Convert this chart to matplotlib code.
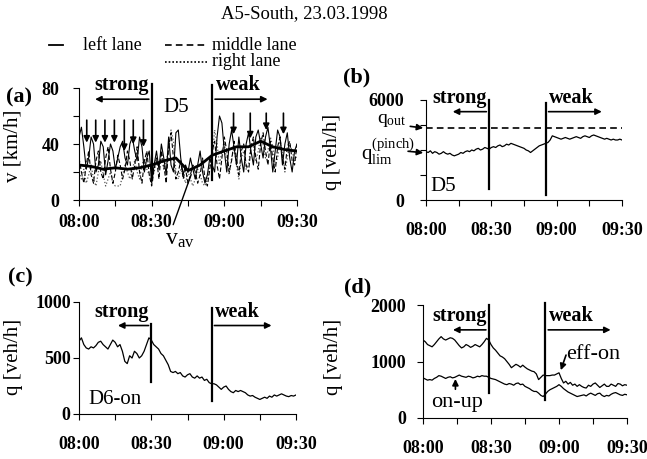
import matplotlib
matplotlib.use('Agg')
import matplotlib.pyplot as plt
from matplotlib.lines import Line2D
import numpy as np

plt.rcParams['font.family'] = 'Liberation Serif'
plt.rcParams['mathtext.fontset'] = 'custom'
plt.rcParams['mathtext.rm'] = 'Liberation Serif'

# minutes after 08:00
minutes = np.arange(0, 91)
clock = ['08:00', '08:30', '09:00', '09:30']

# (a) D5 speeds per lane [km/h]
left_lane = [45, 52, 38, 22, 30, 45, 40, 20, 25, 42,
             38, 18, 28, 40, 35, 22, 30, 38, 42, 30,
             25, 40, 45, 35, 28, 45, 38, 20, 30, 35,
             12, 25, 35, 22, 40, 30, 18, 45, 25, 20,
             48, 50, 30, 18, 25, 20, 30, 22, 15, 25,
             35, 20, 12, 18, 30, 25, 20, 45, 60, 55,
             35, 20, 40, 50, 38, 25, 45, 30, 20, 40,
             48, 35, 25, 45, 50, 40, 30, 45, 52, 38,
             20, 35, 50, 45, 25, 40, 48, 30, 20, 35, 40]
middle_lane = [30, 20, 12, 25, 35, 18, 12, 28, 35, 20,
               15, 30, 38, 22, 12, 20, 32, 25, 15, 22,
               35, 28, 15, 25, 38, 20, 12, 28, 35, 18,
               10, 22, 30, 15, 35, 25, 12, 38, 48, 30,
               15, 20, 28, 15, 22, 12, 18, 25, 20, 12,
               18, 30, 15, 10, 22, 35, 42, 25, 15, 30,
               45, 35, 20, 28, 42, 30, 18, 35, 40, 25,
               20, 38, 45, 30, 22, 40, 48, 35, 25, 42,
               30, 20, 38, 45, 30, 22, 38, 42, 28, 25, 40]
right_lane = [20, 15, 22, 12, 18, 25, 15, 10, 20, 28,
              18, 10, 15, 20, 12, 10, 10, 10, 18, 25,
              20, 15, 22, 28, 20, 15, 25, 30, 22, 18,
              15, 20, 28, 25, 30, 22, 28, 35, 50, 42,
              20, 15, 22, 18, 12, 20, 15, 10, 15, 22,
              18, 12, 10, 15, 25, 30, 50, 40, 25, 35,
              40, 28, 18, 30, 38, 25, 15, 30, 35, 22,
              25, 40, 38, 28, 35, 45, 40, 30, 35, 45,
              38, 25, 30, 42, 35, 20, 30, 40, 35, 28, 32]
t_av = [0, 5, 10, 15, 20, 25, 30, 35, 40, 45, 50, 55, 60, 65, 70, 75, 80, 85, 90]
v_av = [25, 24, 22, 23, 22, 23, 25, 28, 30, 21, 25, 32, 35, 38, 38, 42, 38, 36, 35]

# down arrows in (a): time, top, tip
arrow_t = [3.2, 6.9, 10.7, 14.6, 18.7, 22.4, 26.6, 63.8, 70.7, 77.3, 84.4]
arrow_top = [59, 59, 59, 59, 59, 59, 59, 64, 64, 64, 64]
arrow_tip = [39, 39, 39, 39, 33, 38, 36, 45, 42, 48, 45]

# (b) D5 total flow [veh/h]
q_d5 = [2900, 2850, 2950, 2800, 2900, 2850, 2750, 2800, 2900, 2800,
        2750, 2800, 2700, 2650, 2700, 2750, 2850, 2800, 2900, 2950,
        2900, 3000, 2950, 3050, 3100, 3000, 3050, 3150, 3100, 3050,
        3150, 3200, 3150, 3250, 3300, 3200, 3250, 3350, 3300, 3400,
        3350, 3300, 3250, 3200, 3150, 3100, 3000, 2950, 2850, 2950,
        3050, 3150, 3250, 3300, 3350, 3400, 3450, 3600, 3850, 3800,
        3750, 3700, 3650, 3700, 3750, 3700, 3650, 3700, 3750, 3800,
        3750, 3700, 3800, 3850, 3800, 3750, 3850, 3900, 3850, 3800,
        3750, 3700, 3650, 3700, 3650, 3600, 3650, 3600, 3600, 3650, 3600]
q_out = 4300

# (c) D6-on flow [veh/h]
q_d6on = [650, 680, 620, 590, 580, 600, 590, 610, 640, 650,
          620, 600, 580, 620, 660, 640, 600, 620, 560, 470,
          450, 520, 500, 560, 540, 500, 520, 560, 620, 680,
          660, 620, 600, 580, 540, 520, 480, 440, 380, 370,
          380, 360, 370, 340, 330, 350, 360, 330, 320, 340,
          320, 330, 300, 310, 280, 270, 270, 260, 240, 220,
          240, 250, 220, 200, 190, 210, 200, 210, 200, 190,
          170, 160, 165, 150, 140, 130, 140, 150, 140, 160,
          150, 170, 160, 170, 180, 170, 160, 155, 165, 160, 170]

# (d) on-ramp flows [veh/h]
q_effon = [1380, 1350, 1300, 1280, 1260, 1300, 1350, 1400, 1440, 1400,
           1380, 1400, 1420, 1410, 1380, 1330, 1280, 1240, 1260, 1300,
           1280, 1250, 1270, 1300, 1280, 1260, 1300, 1350, 1410, 1380,
           1300, 1240, 1200, 1150, 1100, 1080, 1050, 1000, 950, 890,
           920, 950, 930, 900, 935, 900, 870, 850, 830, 820,
           780, 680, 720, 760, 750, 750, 750, 760, 760, 780,
           800, 700, 620, 650, 600, 630, 580, 600, 560, 590,
           560, 540, 530, 580, 560, 600, 620, 580, 540, 570,
           600, 560, 560, 600, 580, 560, 610, 600, 570, 590, 580]
q_onup = [710, 690, 670, 680, 670, 700, 720, 750, 740, 720,
          700, 720, 730, 710, 720, 740, 760, 740, 730, 720,
          740, 730, 710, 720, 740, 730, 750, 740, 740, 720,
          700, 690, 680, 660, 640, 620, 600, 590, 610, 600,
          580, 610, 620, 590, 600, 560, 540, 520, 490, 470,
          470, 440, 400, 380, 420, 470, 500, 520, 540, 560,
          590, 560, 520, 490, 460, 440, 420, 400, 380, 390,
          400, 410, 390, 420, 440, 420, 400, 430, 440, 400,
          380, 400, 390, 420, 440, 450, 430, 410, 400, 420, 410]

# boundaries of strong / weak congestion per panel (minutes)
strong_end = [30, 29, 30, 29]
weak_start = [55, 55, 55, 54]

W, H = 647, 459
fig = plt.figure(figsize=(6.47, 4.59), dpi=100)


def box(l, r, t, b):
    return [l / W, 1 - b / H, (r - l) / W, (b - t) / H]


ax_a = fig.add_axes(box(79, 297, 88, 200))
ax_b = fig.add_axes(box(426, 622, 100, 200))
ax_c = fig.add_axes(box(79, 296, 302, 414))
ax_d = fig.add_axes(box(423, 627, 305, 418))


def style(ax, ymax, yticks, yminor, ylabel, lx, ly, xpad, ypad):
    ax.set_xlim(0, 90)
    ax.set_ylim(0, ymax)
    for s in ['top', 'right']:
        ax.spines[s].set_visible(False)
    ax.set_xticks([0, 30, 60, 90])
    ax.set_xticklabels(clock)
    ax.set_xticks([15, 45, 75], minor=True)
    ax.set_yticks(yticks)
    ax.set_yticks(yminor, minor=True)
    ax.tick_params(which='both', direction='out', length=4, width=0.8)
    ax.tick_params(axis='x', labelsize=13, pad=xpad)
    ax.tick_params(axis='y', labelsize=13, pad=ypad)
    for lab in ax.get_xticklabels() + ax.get_yticklabels():
        lab.set_fontweight('bold')
    ax.set_ylabel(ylabel, fontsize=15)
    ax.yaxis.set_label_coords(lx, ly)


style(ax_a, 80, [0, 40, 80], [20, 60], 'v [km/h]', -0.26, 0.48, 6, 10)
style(ax_b, 6000, [0, 6000], [1500, 3000, 4500], 'q [veh/h]', -0.43, 0.48, 12, 12)
style(ax_c, 1000, [0, 500, 1000], [], 'q [veh/h]', -0.26, 0.51, 12, 2)
style(ax_d, 2000, [0, 1000, 2000], [], 'q [veh/h]', -0.39, 0.54, 12, 8)

arr = dict(arrowstyle='-|>', color='k', lw=1.2, mutation_scale=9)


def regions(ax, i, ymax, s_ext, w_ext, arrow_y, s_tail, w_tail):
    ax.plot([strong_end[i]] * 2, s_ext, color='k', lw=1.6, clip_on=False)
    ax.plot([weak_start[i]] * 2, w_ext, color='k', lw=1.6, clip_on=False)
    ax.annotate('', xy=(s_tail, arrow_y), xytext=(strong_end[i], arrow_y),
                arrowprops=arr, annotation_clip=False)
    ax.annotate('', xy=(w_tail, arrow_y), xytext=(weak_start[i], arrow_y),
                arrowprops=arr, annotation_clip=False)
    ax.text(strong_end[i] - 1, arrow_y + 0.035 * ymax, 'strong', ha='right',
            va='bottom', fontsize=14.5, fontweight='bold')
    ax.text(weak_start[i] + 1.5, arrow_y + 0.035 * ymax, 'weak', ha='left',
            va='bottom', fontsize=14.5, fontweight='bold')


# (a)
ax_a.plot(minutes, right_lane, color='0.35', lw=0.9, ls=':')
ax_a.plot(minutes, middle_lane, color='k', lw=0.8, ls=(0, (4, 2)))
ax_a.plot(minutes, left_lane, color='k', lw=0.8)
ax_a.plot(t_av, v_av, color='k', lw=2)
regions(ax_a, 0, 80, [83, 14], [82, 14], 72, 5.5, 79)
for t, y0, y1 in zip(arrow_t, arrow_top, arrow_tip):
    ax_a.annotate('', xy=(t, y1), xytext=(t, y0), arrowprops=arr)
ax_a.text(35, 66, 'D5', fontsize=15, va='center', ha='left')
ax_a.annotate('', xy=(46.7, 20), xytext=(38.5, -19.5),
              arrowprops=dict(arrowstyle='-', color='k', lw=1), annotation_clip=False)
ax_a.text(41.5, -28, r'$\mathrm{v_{av}}$', fontsize=17, ha='center', va='center')

# (b)
ax_b.axhline(q_out, color='k', lw=1.2, ls=(0, (4, 2.5)))
ax_b.plot(minutes, q_d5, color='k', lw=0.9)
regions(ax_b, 1, 6000, [6000, 660], [5820, 300], 5300, 11, 82)
ax_b.text(2, 800, 'D5', fontsize=15, va='center', ha='left')
ax_b.annotate('', xy=(0, q_out), xytext=(-8.5, 4440), arrowprops=arr,
              annotation_clip=False)
ax_b.text(-9, 4780, r'$\mathrm{q_{out}}$', fontsize=14, ha='right', va='center')
ax_b.annotate('', xy=(0, 2820), xytext=(-9.5, 2940), arrowprops=arr,
              annotation_clip=False)
ax_b.text(-5, 2900, r'$\mathrm{q_{lim}^{(pinch)}}$', fontsize=15, ha='right', va='center')

# (c)
ax_c.plot(minutes, q_d6on, color='k', lw=0.9)
regions(ax_c, 2, 1000, [800, 290], [950, 120], 790, 15, 81)
ax_c.text(4, 130, 'D6-on', fontsize=15, va='center', ha='left')

# (d)
ax_d.plot(minutes, q_effon, color='k', lw=0.9)
ax_d.plot(minutes, q_onup, color='k', lw=0.9)
regions(ax_d, 3, 2000, [2000, 440], [2030, 310], 1560, 12, 84)
ax_d.annotate('', xy=(60.4, 800), xytext=(63.5, 1160), arrowprops=arr)
ax_d.text(63, 1130, 'eff-on', fontsize=16, ha='left', va='center')
ax_d.annotate('', xy=(14.3, 740), xytext=(14.3, 460), arrowprops=arr)
ax_d.text(15, 270, 'on-up', fontsize=16, ha='center', va='center')

# panel letters
for px, py, lab in [(19, 97, '(a)'), (357, 77, '(b)'), (20, 277, '(c)'), (358, 287, '(d)')]:
    fig.text(px / W, 1 - py / H, lab, fontsize=16, fontweight='bold',
             ha='center', va='center')

# title and legend
fig.text(304 / W, 1 - 14 / H, 'A5-South, 23.03.1998', fontsize=13.5,
         ha='center', va='center')
fig.add_artist(Line2D([49 / W, 63 / W], [1 - 45 / H] * 2, color='k', lw=1.3))
fig.add_artist(Line2D([165 / W, 208 / W], [1 - 45 / H] * 2, color='k', lw=1.2,
                      ls=(0, (4, 2.5))))
fig.add_artist(Line2D([165 / W, 208 / W], [1 - 62 / H] * 2, color='k', lw=1.2,
                      ls=(0, (1, 1.2))))
fig.text(83 / W, 1 - 45 / H, 'left lane', fontsize=13, va='center')
fig.text(212 / W, 1 - 45 / H, 'middle lane', fontsize=13, va='center')
fig.text(212 / W, 1 - 62 / H, 'right lane', fontsize=13, va='center')

fig.savefig('out.png', dpi=100, facecolor='white')
